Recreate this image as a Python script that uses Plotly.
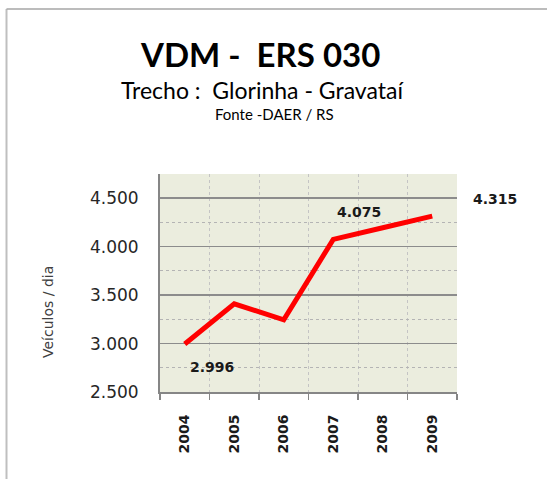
import plotly.graph_objects as go

years = [2004, 2005, 2006, 2007, 2008, 2009]
vdm = [2996, 3410, 3245, 4075, 4195, 4315]
labeled_years = [2004, 2007, 2009]
label_text = ["2.996", "4.075", "4.315"]
y_ticks = [2500, 3000, 3500, 4000, 4500]
y_tick_text = ["2.500", "3.000", "3.500", "4.000", "4.500"]

title = "VDM -  ERS 030"
subtitle = "Trecho :  Glorinha - Gravataí"
source = "Fonte -DAER / RS"
ytitle = "Veículos / dia"

L, R, T, B = 160, 457, 174, 392
W, H = 547, 479

def px(x):
    return (x - L) / (R - L)

def py(y):
    return (B - y) / (B - T)

fig = go.Figure()
fig.add_trace(go.Scatter(x=years, y=vdm, mode="lines",
                         line=dict(color="#FF0000", width=5),
                         hoverinfo="skip", showlegend=False))

shifts = {2004: (27, -23), 2007: (26, 27), 2009: (63, 17)}
for yr, txt in zip(labeled_years, label_text):
    v = vdm[years.index(yr)]
    xs, ys = shifts[yr]
    fig.add_annotation(x=yr, y=v, xref="x", yref="y", text=txt, showarrow=False,
                       xshift=xs, yshift=ys, xanchor="center", yanchor="middle",
                       font=dict(family="DejaVu Sans", size=14, color="#1a1a1a", weight="bold"))

def head(x, y, text, size, color="#000000", family="Lato", angle=0):
    fig.add_annotation(x=px(x), y=py(y), xref="paper", yref="paper", text=text,
                       showarrow=False, xanchor="center", yanchor="middle", textangle=angle,
                       font=dict(family=family, size=size, color=color))

head(260, 54, f"<b>{title}</b>", 33)
head(262, 90, subtitle, 23)
head(274, 114, source, 15)
head(48, 312, ytitle, 14, color="#404040", family="DejaVu Sans", angle=-90)

# outer frame (left and top edges)
fig.add_shape(type="line", xref="paper", yref="paper",
              x0=px(6.5), x1=px(6.5), y0=py(9), y1=py(480),
              line=dict(color="#BFBFBF", width=2))
fig.add_shape(type="line", xref="paper", yref="paper",
              x0=px(6.5), x1=px(548), y0=py(9), y1=py(9),
              line=dict(color="#A6A6A6", width=1.5))

fig.update_xaxes(range=[2003.5, 2009.5], tickvals=years, ticktext=[str(y) for y in years],
                 tickangle=-90, ticks="", showgrid=False,
                 showline=True, linecolor="#868686", linewidth=2,
                 tickfont=dict(family="DejaVu Sans", size=14, color="#1a1a1a", weight="bold"),
                 ticklabelstandoff=15,
                 minor=dict(tickvals=[2003.5 + i for i in range(7)], showgrid=True,
                            gridcolor="#C4C4C4", griddash="dot", gridwidth=1,
                            ticks="outside", ticklen=6, tickcolor="#868686", tickwidth=1.5),
                 zeroline=False, fixedrange=True)
fig.update_yaxes(range=[2500, 4750], tickvals=y_ticks, ticktext=y_tick_text,
                 ticks="", showgrid=True, gridcolor="#8C8C8C", gridwidth=1.5,
                 showline=True, linecolor="#868686", linewidth=2,
                 tickfont=dict(family="DejaVu Sans", size=17, color="#262626"),
                 ticklabelstandoff=16,
                 minor=dict(dtick=250, tick0=2500, showgrid=True, gridcolor="#B4B4B4",
                            griddash="dot", gridwidth=1),
                 zeroline=False, fixedrange=True)

fig.update_layout(width=W, height=H, margin=dict(l=L, r=W - R, t=T, b=H - B),
                  plot_bgcolor="#EBEDDE", paper_bgcolor="#FFFFFF", showlegend=False)

fig.write_html("out.html", config={"displayModeBar": False, "staticPlot": True},
               post_script="document.body.style.margin='0px';document.body.style.overflow='hidden';")
